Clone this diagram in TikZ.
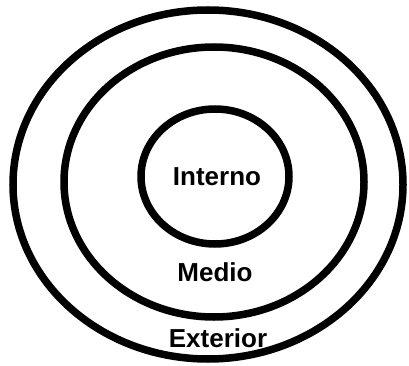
\documentclass[tikz,border=0pt]{standalone}
\usepackage{fontspec}
\setmainfont{Liberation Sans}
\usetikzlibrary{positioning, shapes.geometric}
\tikzset{
  ring/.style={ellipse, draw=black, line width=7.5pt, inner sep=0pt},
  layer/.style={font=\bfseries\fontsize{26}{30}\selectfont, inner sep=0pt}
}

\begin{document}
\begin{tikzpicture}[x=1pt, y=-1pt]
    \useasboundingbox (0,0) rectangle (409,366);

    % Nested rings
    \node[ring, minimum width=390pt, minimum height=349pt] (exterior) at (208,184.5) {};
    \node[ring, minimum width=300pt, minimum height=270pt] (medio) at (214,182) {};
    \node[ring, minimum width=148pt, minimum height=135pt] (interno) at (215,176.5) {};

    % Layer names
    \node[layer] (lblinterno) at (217,177) {Interno};
    \node[layer] (lblmedio) at (215,272) {Medio};
    \node[layer] (lblexterior) at (218,338) {Exterior};
\end{tikzpicture}
\end{document}
